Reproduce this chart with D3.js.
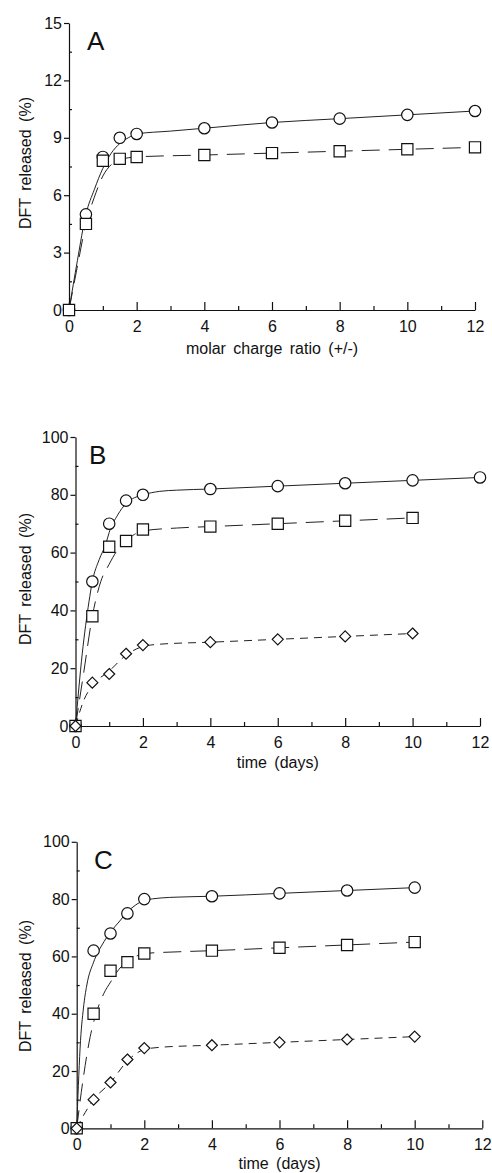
<!DOCTYPE html>
<html>
<head>
<meta charset="utf-8">
<script src="https://cdn.jsdelivr.net/npm/d3@7"></script>
<style>
  body { margin: 0; background: #fff; }
  svg { display: block; font-family: "Liberation Sans", Arial, sans-serif; }
</style>
</head>
<body>
<svg width="492" height="1173"></svg>
<script>
// ---- data ----
var chargeRatio = [0, 0.5, 1, 1.5, 2, 4, 6, 8, 10, 12];
var releaseA_circle = [0, 5.0, 8.0, 9.0, 9.2, 9.5, 9.8, 10.0, 10.2, 10.4];
var releaseA_square = [0, 4.5, 7.8, 7.9, 8.0, 8.1, 8.2, 8.3, 8.4, 8.5];

var daysB_circle = [0, 0.5, 1, 1.5, 2, 4, 6, 8, 10, 12];
var daysB = [0, 0.5, 1, 1.5, 2, 4, 6, 8, 10];
var releaseB_circle = [0, 50, 70, 78, 80, 82, 83, 84, 85, 86];
var releaseB_square = [0, 38, 62, 64, 68, 69, 70, 71, 72];
var releaseB_diamond = [0, 15, 18, 25, 28, 29, 30, 31, 32];

var daysC = [0, 0.5, 1, 1.5, 2, 4, 6, 8, 10];
var releaseC_circle = [0, 62, 68, 75, 80, 81, 82, 83, 84];
var releaseC_square = [0, 40, 55, 58, 61, 62, 63, 64, 65];
var releaseC_diamond = [0, 10, 16, 24, 28, 29, 30, 31, 32];

// fitted curves as [x, y]
var fitA_circle = [[0,0],[0.25,2.6],[0.5,5.0],[0.75,6.3],[1,7.4],[1.25,8.2],[1.5,8.7],[1.75,9.0],[2,9.2],[3,9.35],[4,9.5],[6,9.8],[8,10.0],[10,10.2],[12,10.4]];
var fitA_square = [[0,0],[0.25,2.3],[0.5,4.5],[0.75,5.9],[1,7.0],[1.25,7.6],[1.5,7.85],[2,8.0],[4,8.1],[6,8.2],[8,8.3],[10,8.4],[12,8.5]];
var fitB_circle = [[0,0],[0.2,25],[0.4,43],[0.5,50],[0.7,57.5],[0.9,63],[1,67],[1.25,73],[1.5,77],[1.75,79],[2,80],[2.5,81.2],[3,81.6],[4,82],[6,83],[8,84],[10,85],[12,86]];
var fitB_square = [[0,0],[0.25,19],[0.5,38],[0.75,50],[1,56],[1.25,61],[1.5,64],[1.75,66.3],[2,67.5],[3,68.5],[4,69],[6,70],[8,71],[10,72]];
var fitB_diamond = [[0,0],[0.25,9],[0.5,14],[1,19],[1.5,24.5],[2,27.5],[2.5,28.3],[4,29],[6,30],[8,31],[10,32]];
var fitC_circle = [[0,0],[0.05,15],[0.1,28],[0.2,42],[0.3,50],[0.5,58],[0.75,64],[1,68.5],[1.25,72],[1.5,75.5],[1.75,78],[2,79.5],[2.5,80.4],[3,80.7],[4,81],[6,82],[8,83],[10,84]];
var fitC_square = [[0,0],[0.2,18],[0.4,32],[0.6,41],[0.8,47],[1,51],[1.25,55.5],[1.5,58.3],[1.75,60],[2,61],[3,61.6],[4,62],[6,63],[8,64],[10,65]];
var fitC_diamond = [[0,0],[0.25,5.5],[0.5,10],[1,16],[1.5,23.5],[2,27.5],[2.5,28.3],[4,29],[6,30],[8,31],[10,32]];

var xMajor = [0, 2, 4, 6, 8, 10, 12];
var xMinor = [1, 3, 5, 7, 9, 11];
var yMajorA = [0, 3, 6, 9, 12, 15];
var yMinorA = [1.5, 4.5, 7.5, 10.5, 13.5];
var yMajorBC = [0, 20, 40, 60, 80, 100];
var yMinorBC = [10, 30, 50, 70, 90];

var svg = d3.select("svg");

function zip(xs, ys) {
    return xs.map(function(x, i) { return [x, ys[i]]; });
}

var panels = [
    { letter: "A", xr: [69, 475], yr: [310, 23], ymax: 15, yMajor: yMajorA, yMinor: yMinorA,
      letterPos: [87, 50], ylabelY: 163, xlabel: "molar charge ratio (+/-)", xlabelY: 354,
      series: [
        { pts: zip(chargeRatio, releaseA_circle), fit: fitA_circle, shape: "circle", dash: null },
        { pts: zip(chargeRatio, releaseA_square), fit: fitA_square, shape: "square", dash: "18,9" }
      ] },
    { letter: "B", xr: [75.5, 480], yr: [726, 437], ymax: 100, yMajor: yMajorBC, yMinor: yMinorBC,
      letterPos: [89, 464], ylabelY: 579, xlabel: "time (days)", xlabelY: 768,
      series: [
        { pts: zip(daysB_circle, releaseB_circle), fit: fitB_circle, shape: "circle", dash: null },
        { pts: zip(daysB, releaseB_square), fit: fitB_square, shape: "square", dash: "18,9" },
        { pts: zip(daysB, releaseB_diamond), fit: fitB_diamond, shape: "diamond", dash: "8,6" }
      ] },
    { letter: "C", xr: [76.7, 482.3], yr: [1128.3, 841.8], ymax: 100, yMajor: yMajorBC, yMinor: yMinorBC,
      letterPos: [94, 869], ylabelY: 986, xlabel: "time (days)", xlabelY: 1169,
      series: [
        { pts: zip(daysC, releaseC_circle), fit: fitC_circle, shape: "circle", dash: null },
        { pts: zip(daysC, releaseC_square), fit: fitC_square, shape: "square", dash: "18,9" },
        { pts: zip(daysC, releaseC_diamond), fit: fitC_diamond, shape: "diamond", dash: "8,6" }
      ] }
];

panels.forEach(drawPanel);

function drawPanel(p) {
    var x = d3.scaleLinear().domain([0, 12]).range(p.xr);
    var y = d3.scaleLinear().domain([0, p.ymax]).range(p.yr);
    var g = svg.append("g");

    // x axis: ticks point up into the plot
    var xAxis = g.append("g")
        .attr("transform", "translate(0," + p.yr[0] + ")")
        .call(d3.axisBottom(x).tickValues(xMajor).tickSizeInner(-8).tickSizeOuter(0).tickPadding(10.5));
    g.append("g")
        .attr("transform", "translate(0," + p.yr[0] + ")")
        .call(d3.axisBottom(x).tickValues(xMinor).tickFormat("").tickSizeInner(-4).tickSizeOuter(0))
        .select(".domain").remove();

    // y axis: major ticks outward, minor inward
    var yAxis = g.append("g")
        .attr("transform", "translate(" + p.xr[0] + ",0)")
        .call(d3.axisLeft(y).tickValues(p.yMajor).tickSizeInner(5).tickSizeOuter(0).tickPadding(2));
    g.append("g")
        .attr("transform", "translate(" + p.xr[0] + ",0)")
        .call(d3.axisLeft(y).tickValues(p.yMinor).tickFormat("").tickSizeInner(-3).tickSizeOuter(0))
        .select(".domain").remove();

    g.selectAll(".domain, .tick line").attr("stroke", "#111").attr("stroke-width", 1.2);
    g.selectAll(".tick text")
        .attr("font-family", "'Liberation Sans', Arial, sans-serif")
        .attr("font-size", 16)
        .attr("fill", "#111");
    xAxis.attr("font-family", null).attr("font-size", null);
    yAxis.attr("font-family", null).attr("font-size", null);

    // fitted curves
    var line = d3.line()
        .x(function(d) { return x(d[0]); })
        .y(function(d) { return y(d[1]); })
        .curve(d3.curveMonotoneX);

    p.series.forEach(function(s) {
        g.append("path")
            .datum(s.fit)
            .attr("d", line)
            .attr("fill", "none")
            .attr("stroke", "#222")
            .attr("stroke-width", 1)
            .attr("stroke-dasharray", s.dash);
    });

    // markers
    p.series.forEach(function(s) {
        var m = g.append("g").selectAll("path")
            .data(s.pts)
            .enter().append("path")
            .attr("transform", function(d) { return "translate(" + x(d[0]) + "," + y(d[1]) + ")"; })
            .attr("fill", "#fff")
            .attr("stroke", "#111")
            .attr("stroke-width", 1.2);
        if (s.shape === "circle") m.attr("d", d3.symbol(d3.symbolCircle, Math.PI * 5.7 * 5.7));
        else if (s.shape === "square") m.attr("d", "M-5.6,-5.6H5.6V5.6H-5.6Z");
        else m.attr("d", "M0,-5.5L5.5,0L0,5.5L-5.5,0Z");
    });

    // panel letter
    g.append("text")
        .attr("x", p.letterPos[0])
        .attr("y", p.letterPos[1])
        .attr("font-size", 26)
        .attr("fill", "#111")
        .text(p.letter);

    // axis titles
    g.append("text")
        .attr("transform", "translate(31," + p.ylabelY + ") rotate(-90)")
        .attr("text-anchor", "middle")
        .attr("font-size", 16)
        .attr("word-spacing", 3)
        .attr("fill", "#111")
        .text("DFT released (%)");

    g.append("text")
        .attr("x", (p.xr[0] + p.xr[1]) / 2)
        .attr("y", p.xlabelY)
        .attr("text-anchor", "middle")
        .attr("font-size", 16)
        .attr("word-spacing", 3)
        .attr("fill", "#111")
        .text(p.xlabel);
}
</script>
</body>
</html>
